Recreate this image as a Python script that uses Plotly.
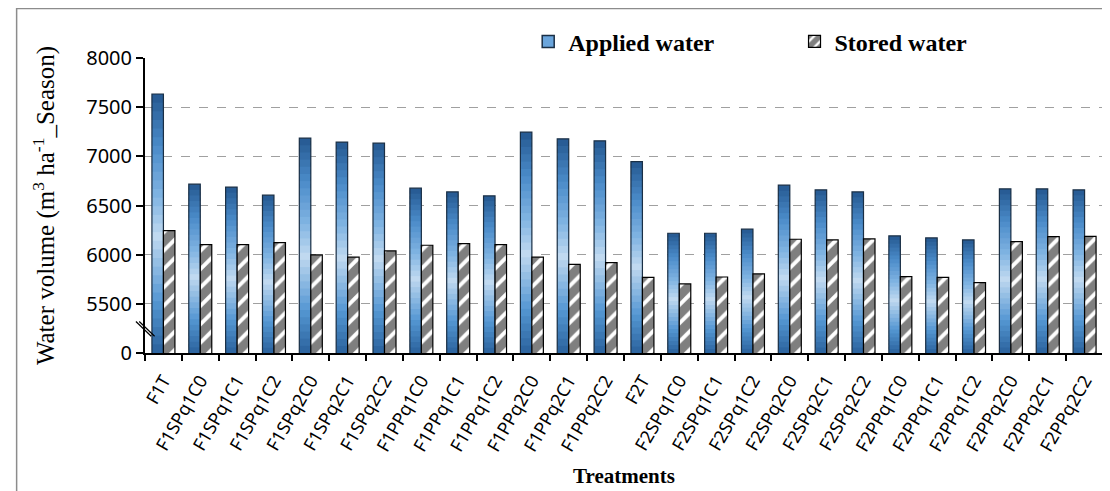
import plotly.graph_objects as go
from plotly.colors import sample_colorscale

treatments = ["F1T", "F1SPq1C0", "F1SPq1C1", "F1SPq1C2", "F1SPq2C0", "F1SPq2C1", "F1SPq2C2",
              "F1PPq1C0", "F1PPq1C1", "F1PPq1C2", "F1PPq2C0", "F1PPq2C1", "F1PPq2C2",
              "F2T", "F2SPq1C0", "F2SPq1C1", "F2SPq1C2", "F2SPq2C0", "F2SPq2C1", "F2SPq2C2",
              "F2PPq1C0", "F2PPq1C1", "F2PPq1C2", "F2PPq2C0", "F2PPq2C1", "F2PPq2C2"]

applied_water = [7634, 6717, 6687, 6605, 7185, 7145, 7134,
                 6676, 6638, 6598, 7246, 7178, 7158,
                 6947, 6218, 6218, 6259, 6707, 6659, 6638,
                 6191, 6170, 6150, 6669, 6669, 6659]

stored_water = [6244, 6102, 6102, 6122, 5997, 5974, 6038,
                6096, 6112, 6102, 5974, 5902, 5919,
                5770, 5702, 5773, 5804, 6157, 6150, 6160,
                5776, 5770, 5716, 6133, 6184, 6187]

y_tickvals = [5000, 5500, 6000, 6500, 7000, 7500, 8000]
y_ticktext = ["0", "5500", "6000", "6500", "7000", "7500", "8000"]

# broken axis: the visible scale starts at 5000, shown as 0
axis_floor = 5000

# vertical gradient of the applied-water bars (bottom -> top)
gradient = [[0.0, "#2a629c"], [0.2, "#5597d3"], [0.45, "#c0d9f0"],
            [0.6, "#82b5e3"], [0.8, "#4a8bc9"], [1.0, "#255890"]]

fig = go.Figure()

n_seg = 30
seg_colors = sample_colorscale(gradient, [(k + 0.5) / n_seg for k in range(n_seg)])
for k in range(n_seg):
    step = [(v - axis_floor) / n_seg for v in applied_water]
    grow = 1.0 if k == n_seg - 1 else 1.6
    fig.add_trace(go.Bar(
        x=treatments,
        y=[s * grow for s in step],
        base=[axis_floor + s * k for s in step],
        offsetgroup="a",
        marker=dict(color=seg_colors[k], line=dict(width=0)),
        showlegend=False,
        hoverinfo="skip"
    ))

# outline of applied bars
fig.add_trace(go.Bar(
    x=treatments,
    y=applied_water,
    offsetgroup="a",
    marker=dict(color="rgba(0,0,0,0)", line=dict(color="#1a2f45", width=1.2)),
    showlegend=False,
    hovertemplate="%{x}<br>Applied water: %{y}<extra></extra>"
))

# legend entry for applied water
fig.add_trace(go.Bar(
    x=treatments,
    y=[None] * len(treatments),
    name="Applied water",
    offsetgroup="a",
    marker=dict(color="#6aa5dc", line=dict(color="#1a2f45", width=1.5)),
    legend="legend"
))

fig.add_trace(go.Bar(
    x=treatments,
    y=stored_water,
    name="Stored water",
    offsetgroup="s",
    marker=dict(
        color="white",
        line=dict(color="black", width=1.2),
        pattern=dict(shape="/", fgcolor="black", bgcolor="white", size=13, solidity=0.7)
    ),
    legend="legend2",
    hovertemplate="%{x}<br>Stored water: %{y}<extra></extra>"
))

serif = "Liberation Serif, Times New Roman, serif"
sans = "Noto Sans, Open Sans, sans-serif"

# the page adds an 8px body margin, so the figure is a bit smaller than the window
fig.update_layout(
    width=1102,
    height=483,
    margin=dict(l=137, r=7, t=50, b=138),
    paper_bgcolor="white",
    plot_bgcolor="white",
    barmode="group",
    bargap=0.376,
    bargroupgap=0,
    font=dict(family=sans, color="black"),
    legend=dict(
        x=0.40, y=1.055, xanchor="left", yanchor="middle",
        font=dict(family=serif, size=24, color="black", weight="bold"),
        bgcolor="rgba(0,0,0,0)", itemwidth=30
    ),
    legend2=dict(
        x=0.678, y=1.055, xanchor="left", yanchor="middle",
        font=dict(family=serif, size=24, color="black", weight="bold"),
        bgcolor="rgba(0,0,0,0)", itemwidth=30
    ),
    xaxis=dict(
        type="category",
        tickson="boundaries",
        ticks="outside",
        ticklen=6,
        tickwidth=2,
        tickcolor="black",
        tickangle=-60,
        ticklabelstandoff=8,
        tickfont=dict(family=sans, size=18, color="black"),
        showline=True,
        linecolor="black",
        linewidth=2,
        showgrid=False,
        title=dict(text="<b>Treatments</b>", font=dict(family=serif, size=21, color="black"), standoff=14),
    ),
    yaxis=dict(
        range=[axis_floor, 8000],
        tickvals=y_tickvals,
        ticktext=y_ticktext,
        ticks="outside",
        ticklen=7,
        tickwidth=2,
        tickcolor="black",
        tickfont=dict(family=sans, size=20, color="black"),
        showline=True,
        linecolor="black",
        linewidth=2,
        showgrid=True,
        gridcolor="#a0a0a0",
        griddash="dash",
        gridwidth=1,
        zeroline=False,
        title=dict(text="Water volume (m<sup>3</sup> ha<sup>-1</sup>_Season)",
                   font=dict(family=serif, size=25, color="black"), standoff=24),
    ),
)

# axis break marks
for dx in (0.0, 0.0035):
    fig.add_shape(type="line", xref="paper", yref="y",
                  x0=-0.0095 + dx, y0=5320, x1=0.0065 + dx, y1=5170,
                  line=dict(color="black", width=1.2))

# outer frame
fig.add_shape(type="rect", xref="paper", yref="paper",
              x0=-0.134, y0=-0.50, x1=1.03, y1=1.1675,
              line=dict(color="#8c8c8c", width=1.5), fillcolor="rgba(0,0,0,0)", layer="below")

fig.write_html("out.html")
